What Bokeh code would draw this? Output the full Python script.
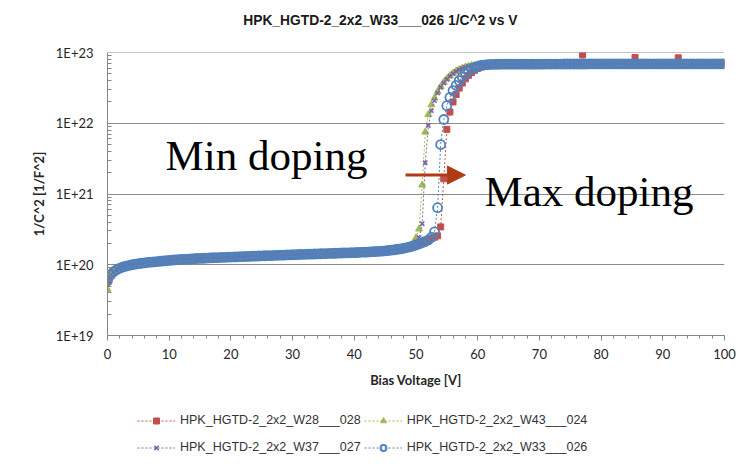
import numpy as np
from bokeh.plotting import figure
from bokeh.layouts import column
from bokeh.models import (Range1d, Legend, LegendItem, SingleIntervalTicker, FixedTicker,
                          CustomJSTickFormatter, Label, Arrow, NormalHead)
from bokeh.embed import file_html
from bokeh.resources import INLINE

# ---------------- data ----------------
title_text = "HPK_HGTD-2_2x2_W33___026 1/C^2 vs V"
x_label = "Bias Voltage [V]"
y_label = "1/C^2 [1/F^2]"
names = ["HPK_HGTD-2_2x2_W28___028", "HPK_HGTD-2_2x2_W43___024",
         "HPK_HGTD-2_2x2_W37___027", "HPK_HGTD-2_2x2_W33___026"]
y_decades = [19, 20, 21, 22, 23]     # y tick labels 1E+19 ... 1E+23

voltage = np.arange(0, 100.5, 0.5)   # measurement grid, 0.5 V steps
UNIT = 1e20                          # values below are in units of 1e20 1/F^2

# shared low-voltage part (V = 0 ... 53.0), all four curves overlap here
base = [0.59, 0.72, 0.80, 0.855, 0.895, 0.93, 0.955, 0.98, 1.00, 1.02,
        1.035, 1.05, 1.065, 1.08, 1.09, 1.10, 1.11, 1.12, 1.13, 1.145,
        1.155, 1.165, 1.17, 1.18, 1.19, 1.195, 1.20, 1.21, 1.22, 1.225,
        1.23, 1.235, 1.24, 1.25, 1.255, 1.26, 1.265, 1.27, 1.275, 1.28,
        1.285, 1.29, 1.295, 1.30, 1.305, 1.31, 1.315, 1.32, 1.325, 1.33,
        1.335, 1.34, 1.345, 1.35, 1.355, 1.36, 1.365, 1.37, 1.375, 1.38,
        1.385, 1.39, 1.395, 1.40, 1.405, 1.41, 1.415, 1.42, 1.425, 1.43,
        1.435, 1.44, 1.445, 1.45, 1.455, 1.46, 1.465, 1.47, 1.475, 1.48,
        1.485, 1.49, 1.50, 1.505, 1.51, 1.52, 1.53, 1.54, 1.55, 1.56,
        1.575, 1.59, 1.61, 1.63, 1.655, 1.68, 1.71, 1.75, 1.79, 1.84,
        1.90, 1.97, 2.05, 2.14, 2.24, 2.36, 2.50]

# shared plateau (V = 60.0 ... 100.0)
plateau = [670, 674, 677, 679, 680, 681, 682, 682, 683, 683,
           684, 684, 684, 685, 685, 685, 685, 686, 686, 686,
           686, 686, 687, 687, 687, 687, 687, 687, 688, 688,
           688, 688, 688, 688, 688, 688, 689, 689, 689, 689,
           689, 689, 689, 689, 690, 690, 690, 690, 690, 690,
           690, 690, 690, 690, 690, 691, 691, 691, 691, 691,
           691, 691, 691, 691, 691, 691, 691, 692, 692, 692,
           692, 692, 692, 692, 692, 692, 692, 692, 692, 692,
           692]

# knees of each sensor
w43_v0 = 0.45                                                # W43 first point
w43_knee = [2.0, 2.4, 3.2, 13.4, 75, 133, 183, 227, 280, 330, 380,
            425, 470, 510, 545, 575, 600, 622, 640, 654, 664]  # V 49.5 ... 59.5
w37_knee = [2.1, 2.42, 3.8, 27.6, 93, 151, 209, 267, 320, 370,
            418, 462, 503, 540, 571, 597, 620, 638, 652, 663]  # V 50.0 ... 59.5
w33_knee = [2.45, 2.92, 6.4, 50, 113, 177, 232, 289, 343, 400,
            450, 500, 545, 585, 615, 638, 655, 665, 672]        # V 52.5 ... 61.5
w28_knee = [2.45, 2.56, 3.43, 16.4, 82, 144, 200, 254, 314, 370,
            425, 475, 520, 560, 595, 622, 642, 656, 666, 672]   # V 53.0 ... 62.5
w28_outlier_v = [77.0, 85.5, 92.5]
w28_outlier_c = [930, 850, 840]

w28 = base[:106] + w28_knee + plateau[6:]
for v, c in zip(w28_outlier_v, w28_outlier_c):
    w28[int(round(v * 2))] = c
w43 = [w43_v0] + base[1:99] + w43_knee + plateau
w37 = base[:100] + w37_knee + plateau
w33 = base[:105] + w33_knee + plateau[4:]
series = [np.array(s) * UNIT for s in (w28, w43, w37, w33)]

colors = ["#C0504D", "#9BBB59", "#8064A2", "#4F81BD"]
markers = ["square", "triangle", "x", "circle"]
sizes = [6, 7, 6, 9]


def add_series(fig, name, vals, col, mk, sz):
    ln = fig.line(voltage, vals, line_color=col, line_width=1, line_dash="2 2")
    if mk == "circle":
        sc = fig.scatter(voltage, vals, marker=mk, size=sz, line_color=col, line_width=1.8,
                         fill_alpha=0)
    elif mk == "x":
        sc = fig.scatter(voltage, vals, marker=mk, size=sz, line_color=col, line_width=1.6)
    else:
        sc = fig.scatter(voltage, vals, marker=mk, size=sz, line_color=col, fill_color=col)
    return LegendItem(label=name, renderers=[ln, sc])


def strip(height, x_range, y_range, y_type="linear"):
    f = figure(width=741, height=height, x_range=x_range, y_range=y_range,
               y_axis_type=y_type, output_backend="svg", toolbar_location=None,
               x_axis_location=None, y_axis_location=None,
               min_border_left=0, min_border_right=0, min_border_top=0, min_border_bottom=0)
    f.outline_line_color = None
    f.xgrid.grid_line_color = None
    f.ygrid.grid_line_color = None
    f.background_fill_color = "white"
    f.border_fill_color = "white"
    return f


# ---------------- title strip ----------------
top = strip(40, Range1d(0, 100), Range1d(0, 40))
top.add_layout(Label(x=22.0, y=20, text=title_text, text_font="Liberation Sans",
                     text_font_style="bold", text_font_size="13.8px", text_color="#1a1a1a",
                     text_align="left", text_baseline="middle"))

# ---------------- main figure ----------------
major_y = [float("1e%d" % d) for d in y_decades]
minor_y = [float("%de%d" % (k, d)) for d in y_decades[:-1] for k in range(2, 10)]

p = figure(width=741, height=355, x_range=Range1d(0, 100),
           y_range=Range1d(major_y[0], major_y[-1] * 1.000001),
           y_axis_type="log", output_backend="svg", toolbar_location=None,
           min_border_left=107, min_border_right=17, min_border_top=12, min_border_bottom=60)
p.background_fill_color = "white"
p.border_fill_color = "white"
p.outline_line_color = None

axis_col = "#868686"
p.xaxis.ticker = SingleIntervalTicker(interval=10, num_minor_ticks=5)
p.yaxis.ticker = FixedTicker(ticks=major_y, minor_ticks=minor_y)
p.yaxis.formatter = CustomJSTickFormatter(code="return '1E+' + Math.round(Math.log10(tick));")
for ax in (p.xaxis[0], p.yaxis[0]):
    ax.axis_line_color = axis_col
    ax.major_tick_line_color = axis_col
    ax.minor_tick_line_color = axis_col
    ax.major_label_text_font = "Lato"
    ax.major_label_text_font_size = "13px"
    ax.major_label_text_color = "#262626"
    ax.axis_label_text_font = "Lato"
    ax.axis_label_text_font_style = "bold"
    ax.axis_label_text_font_size = "13px"
    ax.axis_label_text_color = "#262626"
p.xaxis.major_tick_out = 5
p.xaxis.major_tick_in = 0
p.xaxis.minor_tick_out = 3
p.xaxis.minor_tick_in = 0
p.xaxis.major_label_standoff = 8
p.xaxis.axis_label = x_label
p.xaxis.axis_label_standoff = 10
p.yaxis.major_tick_out = 0
p.yaxis.major_tick_in = 0
p.yaxis.minor_tick_out = 0
p.yaxis.minor_tick_in = 4
p.yaxis.major_label_standoff = 14
p.yaxis.axis_label = y_label
p.yaxis.axis_label_standoff = 6

p.xgrid.grid_line_color = None
p.ygrid.grid_line_color = "#8c8c8c"

for name, vals, col, mk, sz in zip(names, series, colors, markers, sizes):
    add_series(p, name, vals, col, mk, sz)

# annotations
arrow_col = "#B03A12"
p.add_layout(Arrow(end=NormalHead(size=18, fill_color=arrow_col, line_color=arrow_col),
                   x_start=48.3, y_start=1.85e21, x_end=58.0, y_end=1.85e21,
                   line_color=arrow_col, line_width=3))
p.add_layout(Label(x=9.4, y=3.55e21, text="Min doping", text_font="Liberation Serif",
                   text_font_size="43px", text_color="black", text_baseline="alphabetic"))
p.add_layout(Label(x=61.1, y=1.1e21, text="Max doping", text_font="Liberation Serif",
                   text_font_size="43px", text_color="black", text_baseline="alphabetic"))

# ---------------- legend strip (same series, drawn off-range so only the legend shows) ----------------
lg = strip(70, Range1d(1000, 1001), Range1d(1e30, 1e31), "log")
items = [add_series(lg, name, vals, col, mk, sz)
         for name, vals, col, mk, sz in zip(names, series, colors, markers, sizes)]
legend = Legend(items=items, orientation="horizontal", ncols=2, location=(30, 6),
                border_line_color=None, background_fill_alpha=0, padding=0, margin=0,
                spacing=3, glyph_width=38, glyph_height=15, label_height=24,
                label_standoff=5, label_text_font="Liberation Sans",
                label_text_font_size="12.5px", label_text_color="#333333")
lg.add_layout(legend, "center")

layout = column(top, p, lg, spacing=0)
open("out.html", "w").write(file_html(layout, INLINE))
